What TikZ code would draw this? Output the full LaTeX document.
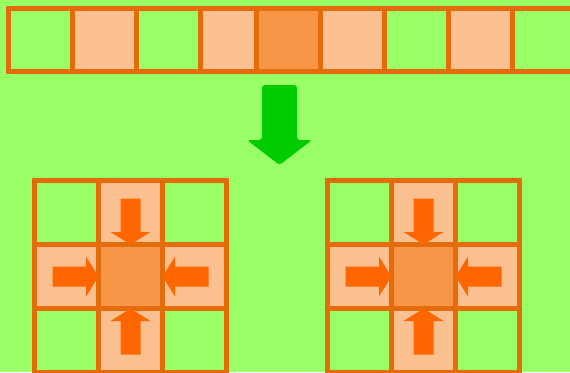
\documentclass[tikz,border=0pt]{standalone}
\definecolor{bg}{HTML}{99FF66}
\definecolor{light}{HTML}{FAC090}
\definecolor{mid}{HTML}{F79646}
\definecolor{edge}{HTML}{E46C0A}
\definecolor{arrowc}{HTML}{FF6600}
\definecolor{garrow}{HTML}{00CC00}
\begin{document}
\begin{tikzpicture}[x=1pt,y=-1pt,
  cellbase/.style={rectangle, draw=edge, line width=5pt, minimum width=64pt, minimum height=64pt, inner sep=0pt, outer sep=0pt},
  greencell/.style={cellbase, fill=bg},
  lightcell/.style={cellbase, fill=light},
  midcell/.style={cellbase, fill=mid},
  rowcell/.style={minimum height=63pt},
  pics/inarrow/.style={code={\fill[arrowc] (-46,-10) -- (-12.5,-10) -- (-12.5,-20) -- (0,0) -- (-12.5,20) -- (-12.5,10) -- (-46,10) -- cycle;}}]
\fill[bg] (0,0) rectangle (570,372);
\useasboundingbox (0,0) rectangle (570,372);
\clip (0,0) rectangle (570,372);
% top row
\node[greencell, rowcell] (t1) at (40,40) {};
\node[lightcell, rowcell] (t2) at (104,40) {};
\node[greencell, rowcell] (t3) at (168,40) {};
\node[lightcell, rowcell, minimum width=56pt] (t4) at (228,40) {};
\node[midcell, rowcell] (t5) at (288,40) {};
\node[lightcell, rowcell] (t6) at (352,40) {};
\node[greencell, rowcell] (t7) at (416,40) {};
\node[lightcell, rowcell] (t8) at (480,40) {};
\node[greencell, rowcell] (t9) at (544,40) {};
% big green arrow
\fill[garrow, rounded corners=3pt] (262,85) -- (297,85) -- (297,140) -- (312,140) -- (279.5,165) -- (247,140) -- (262,140) -- cycle;
% grids
\foreach \g/\x in {L/66.5,R/359.5}{
  \node[greencell] (\g11) at (\x,212.5) {};
  \node[lightcell] (\g12) at (\x+64,212.5) {};
  \node[greencell] (\g13) at (\x+128,212.5) {};
  \node[lightcell] (\g21) at (\x,276.5) {};
  \node[lightcell] (\g23) at (\x+128,276.5) {};
  \node[greencell] (\g31) at (\x,340.5) {};
  \node[lightcell] (\g32) at (\x+64,340.5) {};
  \node[greencell] (\g33) at (\x+128,340.5) {};
  \node[midcell] (\g22) at (\x+64,276.5) {};
  \pic[rotate=-90] at (\g22.north) {inarrow};
  \pic at (\g22.west) {inarrow};
  \pic[rotate=180] at (\g22.east) {inarrow};
  \pic[rotate=90] at (\g22.south) {inarrow};
}
\end{tikzpicture}
\end{document}
